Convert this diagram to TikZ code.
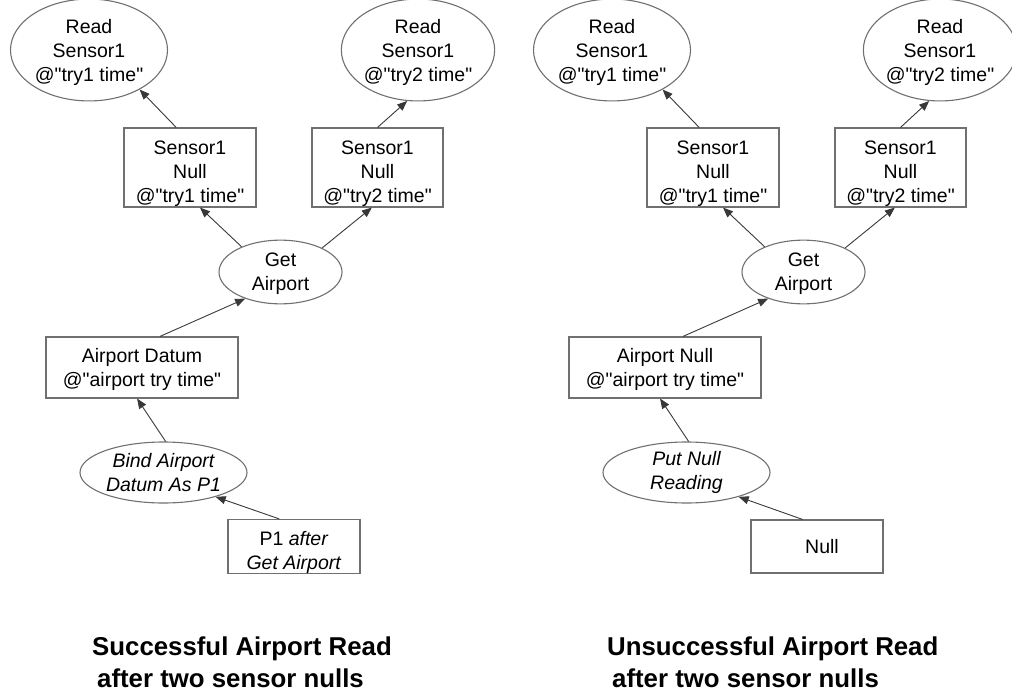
\documentclass[tikz,border=0pt]{standalone}
\usepackage{fontspec}
\setmainfont{Liberation Sans}[Ligatures=TeXOff]
\usetikzlibrary{arrows.meta,shapes.geometric}
\definecolor{edgegray}{HTML}{707070}
\definecolor{linegray}{HTML}{383838}
% straight double quote and a strut that sets the height of a first line
\newcommand\dq{\symbol{34}}
\newcommand\padtop[1]{\rule{0pt}{#1pt}}
\begin{document}
\begin{tikzpicture}[x=1pt,y=-1pt,
  every node/.style={inner sep=0pt, align=center, font=\fontsize{19.5}{24}\selectfont},
  place/.style={ellipse, draw=edgegray, line width=1.1pt},
  token/.style={rectangle, draw=edgegray, line width=1.1pt},
  link/.style={draw=linegray, line width=0.9pt, -{Triangle[length=10pt,width=8pt]}},
  caption/.style={anchor=base west, font=\fontsize{25.8}{32}\selectfont\bfseries}]
\useasboundingbox (0,0) rectangle (1012,691);

% ---------- successful read ----------
\node[place, minimum width=157, minimum height=90] (r1) at (89,50) {\padtop{20}Read\\Sensor1\\@\dq try1 time\dq};
\node[place, minimum width=153, minimum height=90] (r2) at (418,50) {\padtop{20}Read\\Sensor1\\@\dq try2 time\dq};
\node[token, minimum width=132, minimum height=79] (s1) at (190,167.5) {\padtop{26}Sensor1\\Null\\@\dq try1 time\dq};
\node[token, minimum width=131, minimum height=79] (s2) at (377.5,167.5) {\padtop{26}Sensor1\\Null\\@\dq try2 time\dq};
\node[place, minimum width=123, minimum height=60] (g) at (280.5,272) {\padtop{17}Get\\Airport};
\node[token, minimum width=192, minimum height=61] (d) at (142,367.5) {\padtop{19}Airport Datum\\@\dq airport try time\dq};
\node[place, minimum width=167, minimum height=61] (b) at (163.5,472.5) {\itshape Bind Airport\\\itshape Datum As P1};
\node[token, minimum width=132, minimum height=53] (p) at (294,546.5) {\padtop{26}P1 \textit{after}\\\textit{Get Airport}};

\draw[link] (s1.109) -- (r1.-38);
\draw[link] (s2.north) -- (r2.-102);
\draw[link] (g.147) -- (s1.-76);
\draw[link] (g.30) -- (s2.-98);
\draw[link] (d.60) -- (g.-143);
\draw[link] (b.86) -- (d.-99);
\draw[link] (p.118) -- (b.-25);

% ---------- unsuccessful read ----------
\node[place, minimum width=157, minimum height=90] (R1) at (612,50) {\padtop{20}Read\\Sensor1\\@\dq try1 time\dq};
\node[place, minimum width=153, minimum height=90] (R2) at (940,50) {\padtop{20}Read\\Sensor1\\@\dq try2 time\dq};
\node[token, minimum width=132, minimum height=79] (S1) at (713,167.5) {\padtop{26}Sensor1\\Null\\@\dq try1 time\dq};
\node[token, minimum width=131, minimum height=79] (S2) at (900.5,167.5) {\padtop{26}Sensor1\\Null\\@\dq try2 time\dq};
\node[place, minimum width=123, minimum height=60] (G) at (803.5,272) {\padtop{17}Get\\Airport};
\node[token, minimum width=192, minimum height=61] (D) at (665,367.5) {\padtop{19}Airport Null\\@\dq airport try time\dq};
\node[place, minimum width=167, minimum height=61] (B) at (686.5,472.5) {\itshape Put Null\\\itshape Reading};
\node[token, minimum width=132, minimum height=53] (P) at (817,546.5) {\hspace{10pt}Null};

\draw[link] (S1.109) -- (R1.-38);
\draw[link] (S2.north) -- (R2.-102);
\draw[link] (G.147) -- (S1.-76);
\draw[link] (G.30) -- (S2.-98);
\draw[link] (D.60) -- (G.-143);
\draw[link] (B.86) -- (D.-99);
\draw[link] (P.118) -- (B.-25);

% ---------- captions ----------
\node[caption] (c1) at (92,655) {Successful Airport Read};
\node[caption] (c2) at (97,687) {after two sensor nulls};
\node[caption] (c3) at (607,655) {Unsuccessful Airport Read};
\node[caption] (c4) at (612,687) {after two sensor nulls};
\end{tikzpicture}
\end{document}
